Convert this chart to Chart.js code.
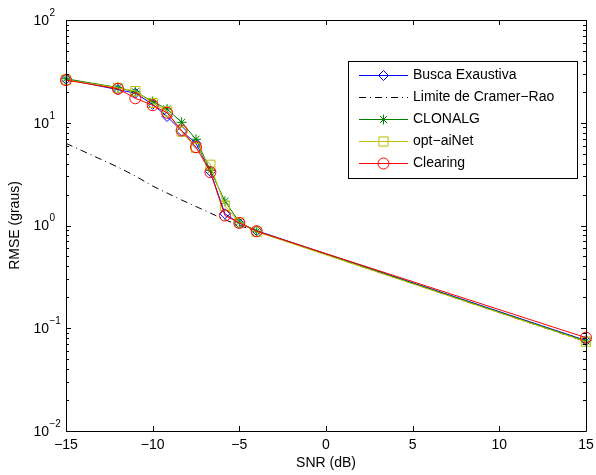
<!DOCTYPE html>
<html>
<head>
<meta charset="utf-8">
<script src="https://cdn.jsdelivr.net/npm/chart.js@4.4.1/dist/chart.umd.min.js"></script>
<style>
    html, body { margin: 0; padding: 0; background: #fff; }
    canvas { display: block; }
</style>
</head>
<body>
<canvas id="rmseChart" width="596" height="475"></canvas>
<script>
// Valeurs (SNR en dB, RMSE en graus)
const snrDb = [-15, -12, -11, -10, -9.17, -8.33, -7.5, -6.67, -5.83, -5, -4, 15];
const buscaExaustiva = [26.5, 21.0, 19.4, 15.1, 11.5, 8.3, 6.3, 3.35, 1.3, 1.05, 0.89, 0.076];
const limiteCramerRao = [6.3, 3.7, 3.03, 2.42, 2.07, 1.77, 1.53, 1.32, 1.14, 1.0, 0.88, 0.074];
const clonalg = [26.8, 22.0, 20.0, 16.1, 13.6, 10.1, 6.9, 3.45, 1.72, 1.08, 0.88, 0.075];
const optAiNet = [26.2, 21.8, 20.3, 15.6, 12.9, 8.2, 5.7, 3.9, 1.55, 1.07, 0.87, 0.074];
const clearing = [26.0, 21.4, 17.3, 14.8, 12.5, 8.4, 5.8, 3.3, 1.25, 1.06, 0.88, 0.081];

const seriesNames = ['Busca Exaustiva', 'Limite de Cramer\u2212Rao', 'CLONALG', 'opt\u2212aiNet', 'Clearing'];
const xTicks = [-15, -10, -5, 0, 5, 10, 15];
const yTickExps = [-2, -1, 0, 1, 2];

const FONT = "'Liberation Sans', Arial, Helvetica, sans-serif";

function toPoints(values) {
    return snrDb.map((x, i) => ({ x: x, y: values[i] }));
}

function minusSign(n) {
    return String(n).replace('-', '\u2212');
}

// Axes, graduations et légende façon MATLAB
const matlabAxes = {
    id: 'matlabAxes',
    afterDraw(chart) {
        const ctx = chart.ctx;
        const area = chart.chartArea;
        const xs = chart.scales.x;
        const ys = chart.scales.y;

        ctx.save();
        ctx.strokeStyle = '#000';
        ctx.lineWidth = 1;
        ctx.beginPath();
        ctx.rect(Math.round(area.left) + 0.5, Math.round(area.top) + 0.5,
            Math.round(area.right - area.left), Math.round(area.bottom - area.top));
        ctx.stroke();

        // graduations X
        ctx.beginPath();
        for (const t of xTicks) {
            const px = Math.round(xs.getPixelForValue(t)) + 0.5;
            ctx.moveTo(px, area.bottom); ctx.lineTo(px, area.bottom - 5);
            ctx.moveTo(px, area.top); ctx.lineTo(px, area.top + 5);
        }
        // graduations Y (log)
        for (let e = -2; e < 2; e++) {
            for (let m = 1; m < 10; m++) {
                const py = Math.round(ys.getPixelForValue(m * Math.pow(10, e))) + 0.5;
                const len = m === 1 ? 5 : 3;
                ctx.moveTo(area.left, py); ctx.lineTo(area.left + len, py);
                ctx.moveTo(area.right, py); ctx.lineTo(area.right - len, py);
            }
        }
        ctx.stroke();

        ctx.fillStyle = '#000';
        // libellés X
        ctx.font = '14px ' + FONT;
        ctx.textAlign = 'center';
        ctx.textBaseline = 'middle';
        for (const t of xTicks) {
            ctx.fillText(minusSign(t), xs.getPixelForValue(t), area.bottom + 14);
        }
        ctx.fillText('SNR (dB)', (area.left + area.right) / 2, area.bottom + 32);

        // libellés Y : 10^e
        for (const e of yTickExps) {
            const py = ys.getPixelForValue(Math.pow(10, e));
            ctx.font = '14px ' + FONT;
            ctx.textAlign = 'right';
            ctx.fillText('10', 49, py + 1);
            ctx.font = '10px ' + FONT;
            ctx.textAlign = 'left';
            ctx.fillText(minusSign(e), 49.5, py - 7);
        }

        ctx.font = '14px ' + FONT;
        ctx.textAlign = 'center';
        ctx.translate(15, (area.top + area.bottom) / 2);
        ctx.rotate(-Math.PI / 2);
        ctx.fillText('RMSE (graus)', 0, 0);
        ctx.restore();

        // légende
        ctx.save();
        const box = { left: 348, top: 61, right: 577, bottom: 178 };
        ctx.fillStyle = '#fff';
        ctx.fillRect(box.left, box.top, box.right - box.left, box.bottom - box.top);
        ctx.strokeStyle = '#000';
        ctx.lineWidth = 1;
        ctx.strokeRect(box.left + 0.5, box.top + 0.5, box.right - box.left, box.bottom - box.top);

        chart.data.datasets.forEach((ds, i) => {
            const y = Math.round(75 + i * 22) + 0.5;
            ctx.strokeStyle = ds.borderColor;
            ctx.lineWidth = ds.borderWidth;
            ctx.setLineDash(ds.borderDash || []);
            ctx.beginPath();
            ctx.moveTo(359, y); ctx.lineTo(408, y);
            ctx.stroke();
            ctx.setLineDash([]);
            if (ds.pointRadius > 0) {
                ctx.fillStyle = 'rgba(0,0,0,0)';
                Chart.helpers.drawPoint(ctx, {
                    pointStyle: ds.pointStyle,
                    radius: ds.pointRadius,
                    borderWidth: 1,
                    rotation: 0
                }, 383.5, y);
            }
            ctx.fillStyle = '#000';
            ctx.font = '14px ' + FONT;
            ctx.textAlign = 'left';
            ctx.textBaseline = 'middle';
            ctx.fillText(ds.label, 413, y);
        });
        ctx.restore();
    }
};

function serie(label, values, color, style, radius, order, dash) {
    return {
        label: label,
        data: toPoints(values),
        borderColor: color,
        backgroundColor: 'rgba(0,0,0,0)',
        borderWidth: 1,
        borderDash: dash || [],
        pointStyle: style,
        pointRadius: radius,
        pointBorderColor: color,
        pointBackgroundColor: 'rgba(0,0,0,0)',
        pointBorderWidth: 1,
        tension: 0,
        fill: false,
        clip: false,
        order: order
    };
}

const ctx = document.getElementById('rmseChart').getContext('2d');
new Chart(ctx, {
    type: 'line',
    data: {
        datasets: [
            serie(seriesNames[0], buscaExaustiva, '#0000ff', 'rectRot', 5, 5),
            serie(seriesNames[1], limiteCramerRao, '#000000', 'circle', 0, 4, [7, 4, 1, 4]),
            serie(seriesNames[2], clonalg, '#008000', 'star', 5, 3),
            serie(seriesNames[3], optAiNet, '#bfbf00', 'rect', 6.5, 2),
            serie(seriesNames[4], clearing, '#ff0000', 'circle', 5.5, 1)
        ]
    },
    options: {
        responsive: false,
        devicePixelRatio: 1,
        animation: false,
        layout: { padding: { left: 66, right: 10, top: 20, bottom: 44 } },
        plugins: {
            legend: { display: false },
            tooltip: { enabled: false }
        },
        scales: {
            x: { type: 'linear', min: -15, max: 15, display: false },
            y: { type: 'logarithmic', min: 0.01, max: 100, display: false }
        }
    },
    plugins: [matlabAxes]
});
</script>
</body>
</html>
